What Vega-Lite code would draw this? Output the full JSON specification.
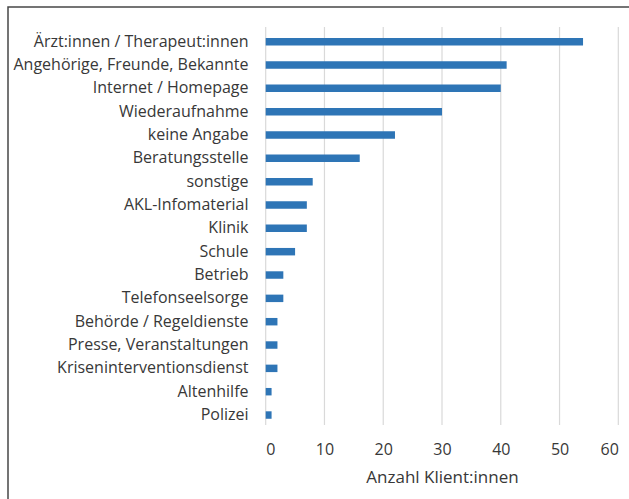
{
  "$schema": "https://vega.github.io/schema/vega-lite/v6.json",
  "autosize": "none",
  "width": 621,
  "height": 492,
  "padding": {"left": 8, "top": 7, "right": 0, "bottom": 0},
  "background": "white",
  "config": {
    "view": {"stroke": "#474747", "strokeWidth": 1.5, "strokeDash": [621, 1113, 492]},
    "font": "Open Sans"
  },
  "resolve": {"scale": {"y": "independent"}, "axis": {"y": "independent"}},
  "layer": [
    {
      "data": {"values": [{"wert": 0}, {"wert": 10}, {"wert": 20}, {"wert": 30}, {"wert": 40}, {"wert": 50}, {"wert": 60}]},
      "mark": {"type": "rule", "color": "#d9d9d9", "strokeWidth": 1.2},
      "encoding": {
        "x": {"field": "wert", "type": "quantitative"},
        "y": {"datum": 0, "type": "quantitative", "scale": {"domain": [0, 1], "range": [20, 418]}, "axis": null},
        "y2": {"datum": 1}
      }
    },
    {
      "data": {
        "values": [
          {"quelle": "Ärzt:innen / Therapeut:innen", "anzahl": 54},
          {"quelle": "Angehörige, Freunde, Bekannte", "anzahl": 41},
          {"quelle": "Internet / Homepage", "anzahl": 40},
          {"quelle": "Wiederaufnahme", "anzahl": 30},
          {"quelle": "keine Angabe", "anzahl": 22},
          {"quelle": "Beratungsstelle", "anzahl": 16},
          {"quelle": "sonstige", "anzahl": 8},
          {"quelle": "AKL-Infomaterial", "anzahl": 7},
          {"quelle": "Klinik", "anzahl": 7},
          {"quelle": "Schule", "anzahl": 5},
          {"quelle": "Betrieb", "anzahl": 3},
          {"quelle": "Telefonseelsorge", "anzahl": 3},
          {"quelle": "Behörde / Regeldienste", "anzahl": 2},
          {"quelle": "Presse, Veranstaltungen", "anzahl": 2},
          {"quelle": "Kriseninterventionsdienst", "anzahl": 2},
          {"quelle": "Altenhilfe", "anzahl": 1},
          {"quelle": "Polizei", "anzahl": 1}
        ]
      },
      "mark": {"type": "bar", "color": "#2E75B6"},
      "encoding": {
        "y": {
          "field": "quelle",
          "type": "nominal",
          "sort": null,
          "scale": {"range": [23, 419.7], "paddingInner": 0.68, "paddingOuter": 0.34},
          "axis": {
            "title": null,
            "orient": "left",
            "offset": -250,
            "domain": false,
            "ticks": false,
            "grid": false,
            "labelPadding": 10,
            "labelFontSize": 16,
            "labelColor": "#383838",
            "labelLimit": 400
          }
        },
        "x": {
          "field": "anzahl",
          "type": "quantitative",
          "scale": {"domain": [0, 60], "range": [257.7, 610.3], "nice": false},
          "axis": {
            "title": "Anzahl Klient:innen",
            "values": [0, 10, 20, 30, 40, 50, 60],
            "offset": -72,
            "domain": false,
            "ticks": false,
            "grid": false,
            "labelPadding": 14,
            "labelFontSize": 16,
            "labelColor": "#383838",
            "titleFontSize": 17,
            "titleFontWeight": "normal",
            "titleColor": "#383838",
            "titlePadding": 12
          }
        }
      }
    }
  ]
}
